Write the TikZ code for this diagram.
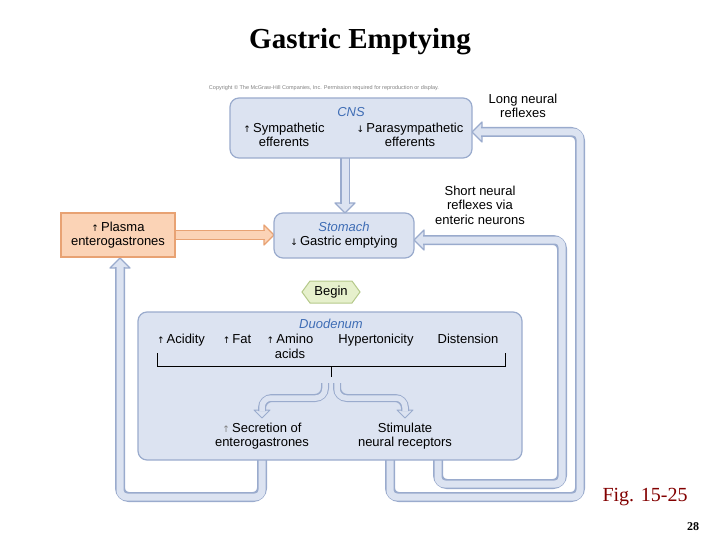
\documentclass[tikz,border=0pt]{standalone}
\usepackage{fontspec}
\setmainfont{Liberation Sans}
\newfontfamily\serifx{Liberation Serif}
\newfontfamily\symf{DejaVu Sans}
\usetikzlibrary{shapes.geometric}
\definecolor{bfill}{HTML}{DCE3F1}
\definecolor{bline}{HTML}{9AABCD}
\definecolor{ofill}{HTML}{FBD3B6}
\definecolor{oline}{HTML}{E8A273}
\definecolor{gfill}{HTML}{E6F0CC}
\definecolor{gline}{HTML}{B5C98A}
\definecolor{ital}{HTML}{3F6DB5}
\newcommand\up{{\symf\small↑}}
\newcommand\dn{{\symf\small↓}}
\begin{document}
\begin{tikzpicture}[x=1pt,y=-1pt,
  box/.style={draw=bline,fill=bfill,line width=1.2pt,rounded corners=9pt},
  txt/.style={align=center,font=\fontsize{13}{14.5}\selectfont,inner sep=0pt},
  ttl/.style={txt,text=ital,font=\fontsize{13}{14.5}\selectfont\itshape},
  pout/.style={draw=bline,line width=10pt,rounded corners=9pt},
  pin/.style={draw=bfill,line width=7pt,rounded corners=7pt},
  head/.style={draw=bline,fill=bfill,line width=1.2pt,line join=round},
  oout/.style={draw=oline,line width=10pt},
  oin/.style={draw=ofill,line width=7pt},
  ohead/.style={draw=oline,fill=ofill,line width=1.2pt,line join=round},
  sout/.style={draw=bline,line width=8pt,rounded corners=10pt},
  sin/.style={draw=bfill,line width=5.5pt,rounded corners=9pt}]
\useasboundingbox (0,0) rectangle (720,540);
\node[font=\serifx\bfseries\fontsize{29}{32}\selectfont] (title) at (360,42) {Gastric Emptying};
\node[font=\fontsize{5.5}{6}\selectfont,text=gray] (copy) at (324,88) {Copyright \textcopyright{} The McGraw-Hill Companies, Inc. Permission required for reproduction or display.};
% long pipe: duodenum -> CNS
\filldraw[head] (472,132) -- (482,122) -- (482,142) -- cycle;
\path[pout] (390,455) -- (390,497) -- (580,497) -- (580,132) -- (481,132);
\path[pin] (390,455) -- (390,497) -- (580,497) -- (580,132) -- (480.5,132);
% short pipe: duodenum -> stomach
\filldraw[head] (414,240) -- (424,230) -- (424,250) -- cycle;
\path[pout] (438,455) -- (438,484) -- (562,484) -- (562,240) -- (423,240);
\path[pin] (438,455) -- (438,484) -- (562,484) -- (562,240) -- (422.5,240);
% duodenum -> plasma
\filldraw[head] (120,258) -- (110,268) -- (130,268) -- cycle;
\path[pout] (262,455) -- (262,497) -- (120,497) -- (120,267);
\path[pin] (262,455) -- (262,497) -- (120,497) -- (120,266.5);
% CNS -> stomach
\filldraw[head] (345,213) -- (335,203) -- (355,203) -- cycle;
\path[pout] (345,155) -- (345,204);
\path[pin] (345,155) -- (345,204.5);
% plasma -> stomach
\filldraw[ohead] (274,235) -- (264,225) -- (264,245) -- cycle;
\path[oout] (172,235) -- (265,235);
\path[oin] (172,235) -- (265.5,235);
% boxes
\draw[box] (230,98) rectangle (472,158);
\node[ttl] (cnst) at (351,112) {CNS};
\node[txt] (symp) at (284,135) {\up\,Sympathetic\\efferents};
\node[txt] (para) at (410,135) {\dn\,Parasympathetic\\efferents};
\node[txt] (long) at (523,106) {Long neural\\reflexes};
\draw[box] (274,213) rectangle (414,258);
\node[ttl] (stt) at (344,227) {Stomach};
\node[txt] (ge) at (344,242) {\dn\,Gastric emptying};
\node[txt] (short) at (480,205) {Short neural\\reflexes via\\enteric neurons};
\draw[draw=oline,fill=ofill,line width=1.2pt] (61,213) rectangle (175,257);
\node[txt] (plasma) at (118,235) {\up\,Plasma\\enterogastrones};
\draw[draw=gline,fill=gfill,line width=1pt] (302,292) -- (310,281) -- (352,281) -- (360,292) -- (352,303) -- (310,303) -- cycle;
\node[txt] (beg) at (331,292) {Begin};
\draw[box] (138,312) rectangle (522,460);
\node[ttl] (duo) at (331,324) {Duodenum};
\node[txt,anchor=base] (acid) at (181,343.5) {\up\,Acidity};
\node[txt,anchor=base] (fat) at (237,343.5) {\up\,Fat};
\node[txt,anchor=base] (amino) at (290,343.5) {\up\,Amino};
\node[txt,anchor=base] (acids) at (290,358.5) {acids};
\node[txt,anchor=base] (hyper) at (376,343.5) {Hypertonicity};
\node[txt,anchor=base] (dist) at (468,343.5) {Distension};
\draw[line width=0.6pt] (157,353) -- (157,366) -- (505,366) -- (505,353);
\coordinate (stem) at (331,366);
\draw[line width=0.6pt] (stem) -- (331,377);
% small curved arrows
\filldraw[head,line width=1pt] (262,418) -- (254,410) -- (270,410) -- cycle;
\path[sout] (325,383) -- (325,398) -- (262,398) -- (262,411);
\path[sin] (325,383) -- (325,398) -- (262,398) -- (262,411);
\filldraw[head,line width=1pt] (405,418) -- (397,410) -- (413,410) -- cycle;
\path[sout] (337,383) -- (337,398) -- (405,398) -- (405,411);
\path[sin] (337,383) -- (337,398) -- (405,398) -- (405,411);
\node[txt] (secr) at (262,436) {{\color{gray}\up}\,Secretion of\\enterogastrones};
\node[txt] (stim) at (405,436) {Stimulate\\neural receptors};
\node[font=\serifx\fontsize{20}{22}\selectfont,text={rgb,255:red,130;green,0;blue,0}] (fig) at (645,497) {Fig. 15-25};
\node[font=\serifx\bfseries\fontsize{12}{14}\selectfont] (pg) at (693,527) {28};
\end{tikzpicture}
\end{document}
